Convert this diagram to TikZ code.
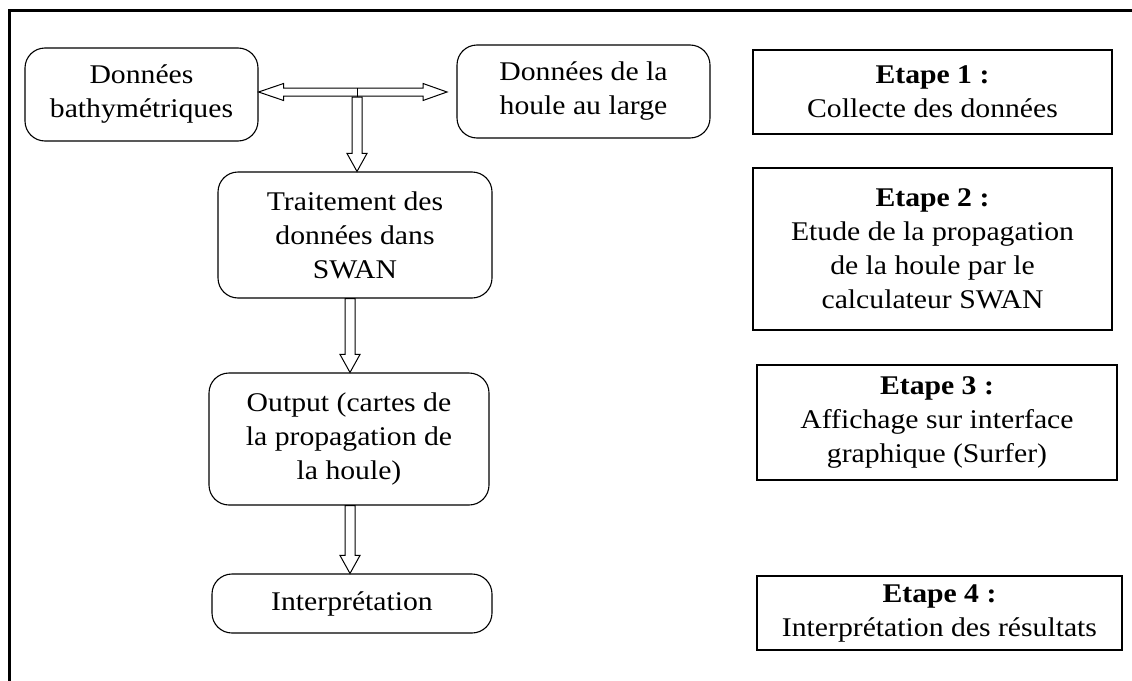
\documentclass[tikz,border=0pt]{standalone}
\usepackage{fontspec}
\setmainfont[FakeStretch=1.1]{Liberation Serif}
\usetikzlibrary{calc}

\tikzset{
  bloc/.style={draw,line width=1.1pt,rounded corners=20pt,align=center,inner sep=0pt},
  etape/.style={draw,line width=1.4pt,align=center,inner sep=0pt},
  fleche/.style={draw,line width=1pt,fill=white,line join=miter},
  texte/.style={font=\fontsize{27}{34}\selectfont}
}

% fleche creuse vers le bas
\newcommand{\flechebas}[2]{%
  \draw[fleche] ($(#1)+(-5,0)$) -- ($(#2)+(-5,-18)$) -- ($(#2)+(-10,-18)$) -- (#2)
    -- ($(#2)+(10,-18)$) -- ($(#2)+(5,-18)$) -- ($(#1)+(5,0)$) -- cycle;}

\begin{document}
\begin{tikzpicture}[x=1pt,y=-1pt,every node/.style={texte}]
  \useasboundingbox (0,0) rectangle (1132,680);
  \clip (0,0) rectangle (1132,680);
  \fill[white] (0,0) rectangle (1132,680);
  \draw[line width=3pt] (9,700) -- (9,10) -- (1150,10);

  \node[bloc,minimum width=233pt,minimum height=93pt] (bathy) at (141.5,94.5) {Données\\bathymétriques};
  \node[bloc,minimum width=253pt,minimum height=93pt] (large) at (583.5,91.5) {Données de la\\houle au large};
  \node[bloc,minimum width=274pt,minimum height=126pt] (swan) at (355,235) {Traitement des\\données dans\\SWAN};
  \node[bloc,minimum width=280pt,minimum height=132pt] (output) at (349,439) {Output (cartes de\\la propagation de\\la houle)};
  \node[bloc,minimum width=280pt,minimum height=59pt] (interp) at (352,603.5) {Interprétation};

  \node[etape,minimum width=359pt,minimum height=84pt] (e1) at (932.5,92) {\textbf{Etape 1 :}\\Collecte des données};
  \node[etape,minimum width=359pt,minimum height=162pt] (e2) at (932.5,249) {\textbf{Etape 2 :}\\Etude de la propagation\\de la houle par le\\calculateur SWAN};
  \node[etape,minimum width=360pt,minimum height=115pt] (e3) at (937,422.5) {\textbf{Etape 3 :}\\Affichage sur interface\\graphique (Surfer)};
  \node[etape,minimum width=365pt,minimum height=74pt] (e4) at (939.5,613) {\textbf{Etape 4 :}\\Interprétation des résultats};

  \coordinate (jonction) at (357,92);
  \coordinate (pointe) at (447,92);
  \coordinate (axe) at (350,0);
  \coordinate (gauche) at (bathy.east |- jonction);

  \draw[fleche] (gauche) -- ++(25,-8.5) -- ++(0,4.5) -- ($(pointe)+(-24,-4)$) -- ++(0,-4.5)
    -- (pointe) -- ++(-24,8.5) -- ++(0,-4.5) -- ($(gauche)+(25,4)$) -- ++(0,4.5) -- cycle;
  \draw[line width=1pt] ($(jonction)+(0,-4)$) -- ($(jonction)+(0,5)$);
  \flechebas{$(jonction)+(0,5)$}{jonction |- swan.north}
  \flechebas{swan.south -| axe}{output.north -| axe}
  \flechebas{output.south -| axe}{interp.north -| axe}
\end{tikzpicture}
\end{document}
